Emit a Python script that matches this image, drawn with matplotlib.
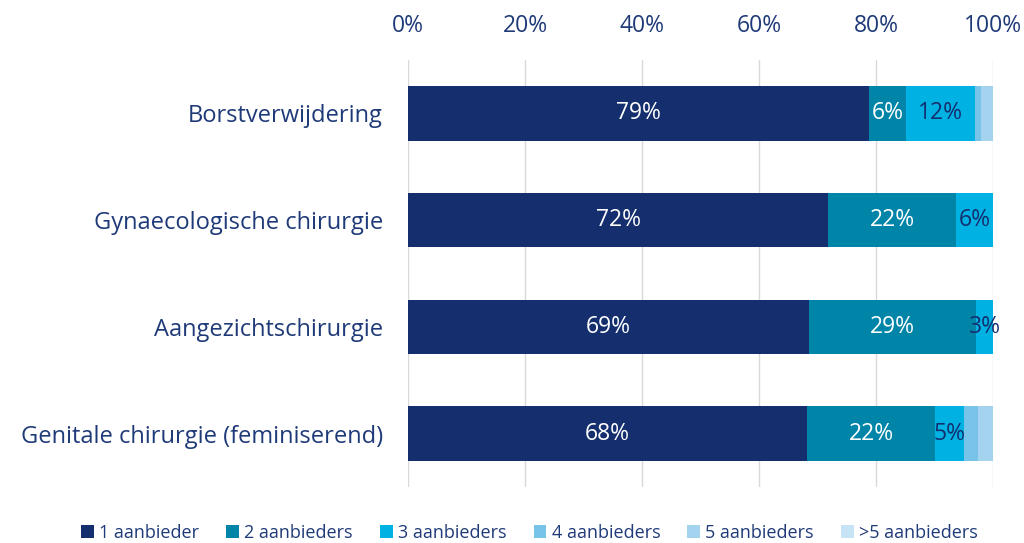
import matplotlib
matplotlib.use("Agg")
import matplotlib.pyplot as plt
import numpy as np

categories = ["Borstverwijdering", "Gynaecologische chirurgie", "Aangezichtschirurgie",
              "Genitale chirurgie (feminiserend)"]
series_names = ["1 aanbieder", "2 aanbieders", "3 aanbieders", "4 aanbieders",
                "5 aanbieders", ">5 aanbieders"]
s1 = [78.8, 71.8, 68.5, 68.2]
s2 = [6.3, 21.9, 28.6, 21.9]
s3 = [11.8, 6.3, 2.9, 4.9]
s4 = [1.0, 0.0, 0.0, 2.4]
s5 = [2.1, 0.0, 0.0, 2.6]
s6 = [0.0, 0.0, 0.0, 0.0]
label_text = [["79%", "72%", "69%", "68%"],
              ["6%", "22%", "29%", "22%"],
              ["12%", "6%", "3%", "5%"]]

colors = ["#142e6e", "#0085a8", "#00b2e3", "#78c4e8", "#a3d3ef", "#c6e4f5"]
label_colors = ["white", "white", "#142e6e"]
navy = "#1f3a78"

plt.rcParams['font.family'] = ['Open Sans', 'DejaVu Sans']
fig = plt.figure(figsize=(10.24, 5.43), dpi=100)
ax = fig.add_axes([408/1024, 1-487/543, 585/1024, 427/543])

series = [s1, s2, s3, s4, s5, s6]
y = np.arange(len(categories))
left = np.zeros(len(categories))
for i, (vals, c, name) in enumerate(zip(series, colors, series_names)):
    vals = np.array(vals)
    ax.barh(y, vals, left=left, height=0.51, color=c, label=name, zorder=3)
    if i < 3:
        for j, v in enumerate(vals):
            ax.text(left[j] + v/2, y[j], label_text[i][j], ha='center', va='center',
                    color=label_colors[i], fontsize=16.5, zorder=4)
    left += vals

ax.set_xlim(0, 100)
ax.set_ylim(3.5, -0.5)
ax.set_yticks(y)
ax.set_yticklabels(categories, fontsize=17, color=navy)
ax.set_xticks(np.arange(0, 101, 20))
ax.set_xticklabels([f"{v}%" for v in range(0, 101, 20)], fontsize=16.5, color=navy)
ax.xaxis.tick_top()
ax.tick_params(axis='x', length=0, pad=16)
ax.tick_params(axis='y', length=0, pad=18)
ax.grid(axis='x', color='#d9d9d9', linewidth=1, zorder=0)
for s in ax.spines.values():
    s.set_visible(False)

handles, labels = ax.get_legend_handles_labels()
fig.legend(handles, labels, loc='center', bbox_to_anchor=(0.517, 1 - 533/543), ncol=6,
           frameon=False, handlelength=0.7, handleheight=0.7, borderpad=0,
           handletextpad=0.3, columnspacing=1.5, labelcolor=navy,
           prop={'size': 13})

fig.savefig("out.png", dpi=100)
